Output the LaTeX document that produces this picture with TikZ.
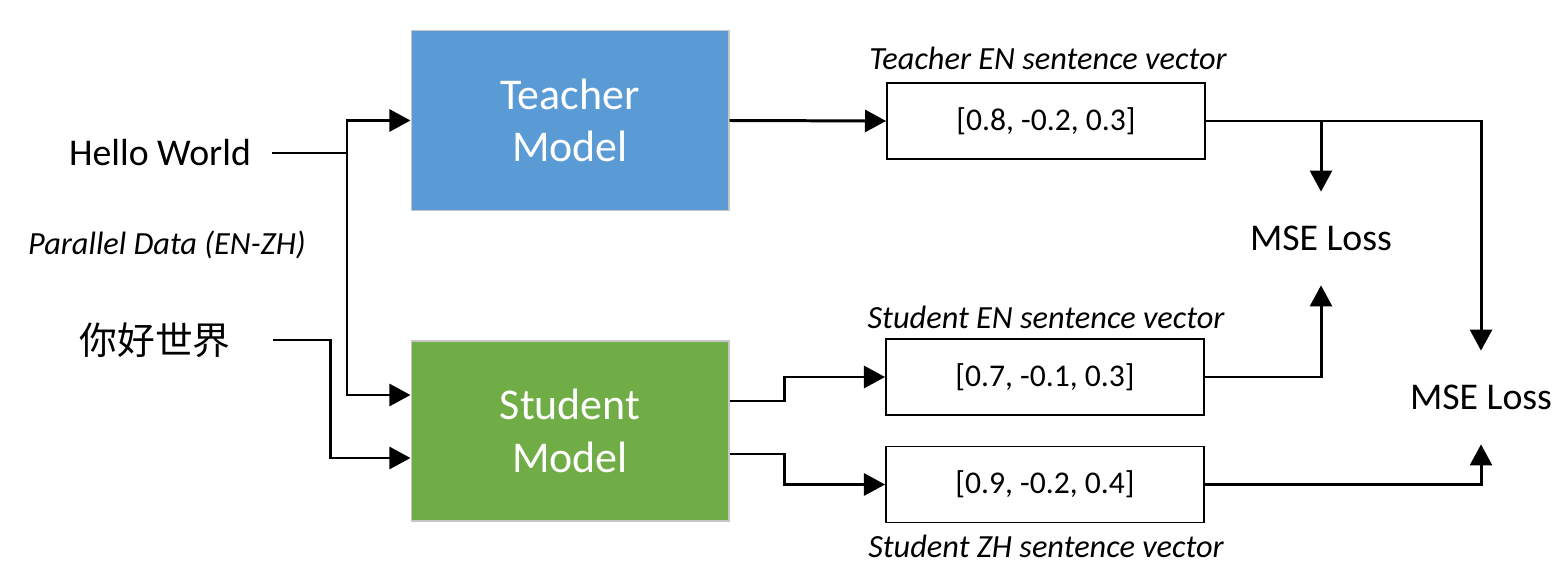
\documentclass[tikz,border=0pt]{standalone}
\usepackage{fontspec}
\setmainfont{Carlito}
\newfontfamily\cjk{Noto Sans CJK SC}
\usepackage{xcolor}
\definecolor{TeaBlue}{HTML}{5B9BD5}
\definecolor{StuGreen}{HTML}{70AD47}
\usetikzlibrary{calc, positioning, arrows.meta}

\begin{document}
\begin{tikzpicture}[x=0.02cm, y=-0.02cm,
  mdl/.style={rectangle, draw=gray!45, line width=0.6pt,
    minimum width=6.36cm, minimum height=3.6cm, align=center,
    text=white, font=\fontsize{25}{30}\selectfont},
  vec/.style={rectangle, draw=black, line width=1.1pt, fill=white,
    minimum width=6.36cm, minimum height=1.52cm,
    font=\fontsize{18}{22}\selectfont},
  inp/.style={inner xsep=0.42cm, inner ysep=0pt, font=\fontsize{21.5}{26}\selectfont},
  lab/.style={inner sep=0pt, font=\fontsize{18.4}{22}\selectfont\itshape},
  mse/.style={inner sep=0pt, minimum height=1.86cm, font=\fontsize{21.5}{26}\selectfont},
  arr/.style={-{Triangle[length=12pt, width=12.5pt]}, line width=1.7pt},
  lin/.style={line width=1.7pt}
]
\useasboundingbox (0,0) rectangle (1554,564);

%% -- inputs --
\node[inp] (hw) at (160,153) {Hello World};
\node[inp, inner xsep=0.85cm] (zh) at (155,340) {\cjk 你好世界};
\node[lab] (par) at (167,245) {Parallel Data (EN-ZH)};

%% -- models --
\node[mdl, fill=TeaBlue] (tea) at (570,120.5) {Teacher\\Model};
\node[mdl, fill=StuGreen] (stu) at (570,431) {Student\\Model};

\coordinate (split) at (347,153);
\draw[lin] (hw.east) -- (split);
\draw[arr] (split) |- (tea.west);
\draw[arr] (split) |- ($(stu.west)+(0,-36)$);
\draw[arr] (zh.east) -- ++(57,0) |- ($(stu.west)+(0,27)$);

%% -- sentence vectors --
\node[vec] (tvec) at (1046,121) {[0.8, -0.2, 0.3]};
\node[vec] (sen) at (1045,377) {[0.7, -0.1, 0.3]};
\node[vec] (szh) at (1045,484.5) {[0.9, -0.2, 0.4]};

\node[lab] (tlab) at (1048,58) {Teacher EN sentence vector};
\node[lab] (slab) at (1046,317) {Student EN sentence vector};
\node[lab] (zlab) at (1046,546) {Student ZH sentence vector};

\draw[arr] (tea.east) -- (tvec.west);
\draw[arr] ($(stu.east)+(0,-30)$) -- ++(55,0) |- (sen.west);
\draw[arr] ($(stu.east)+(0,23)$) -- ++(55,0) |- (szh.west);

%% -- losses --
\node[mse] (mse1) at (1321,238.5) {MSE Loss};
\node[mse] (mse2) at (1481,397.5) {MSE Loss};

\draw[arr] (tvec.east) -| (mse2.north);
\draw[arr] (tvec.east -| mse1.north) -- (mse1.north);
\draw[arr] (sen.east) -| (mse1.south);
\draw[arr] (szh.east) -| (mse2.south);

\end{tikzpicture}
\end{document}
